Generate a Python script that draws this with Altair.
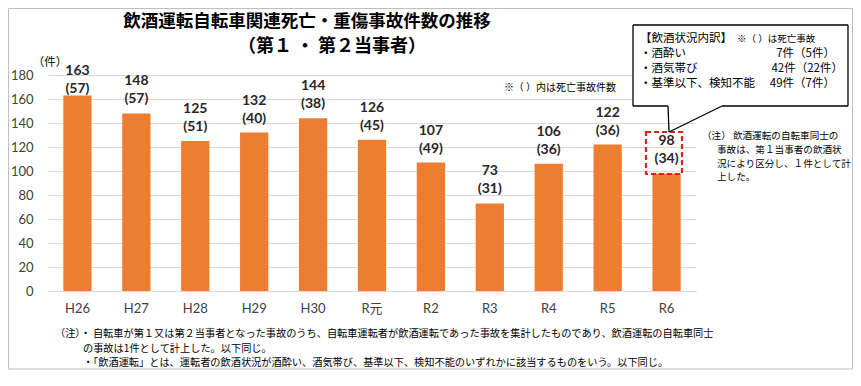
import altair as alt
import pandas as pd

years = ["H26", "H27", "H28", "H29", "H30", "R元", "R2", "R3", "R4", "R5", "R6"]
totals = [163, 148, 125, 132, 144, 126, 107, 73, 106, 122, 98]
fatal = [57, 57, 51, 40, 38, 45, 49, 31, 36, 36, 34]
y_ticks = [0, 20, 40, 60, 80, 100, 120, 140, 160, 180]

title_lines = ["飲酒運転自転車関連死亡・重傷事故件数の推移", "（第１ ・ 第２当事者）"]
unit_label = "（件）"
paren_note = "※（ ）内は死亡事故件数"
box_head = "【飲酒状況内訳】"
box_head_note = "※（ ）は死亡事故"
box_lines = ["・酒酔い", "・酒気帯び", "・基準以下、検知不能"]
box_values = ["7件（5件）", "42件（22件）", "49件（7件）"]
side_note = ["（注） 飲酒運転の自転車同士の", "事故は、第１当事者の飲酒状", "況により区分し、１件として計", "上した。"]
bottom_notes = [
    "（注）・ 自転車が第１又は第２当事者となった事故のうち、自転車運転者が飲酒運転であった事故を集計したものであり、飲酒運転の自転車同士",
    "の事故は1件として計上した。以下同じ。",
    "・「飲酒運転」とは、運転者の飲酒状況が酒酔い、酒気帯び、基準以下、検知不能のいずれかに該当するものをいう。以下同じ。",
]

df = pd.DataFrame({"year": years, "count": totals, "fatal": fatal})

JP = "Noto Sans CJK JP"
NUM = "Lato, Noto Sans CJK JP"
OX, OY = 48, 75  # plot origin in page pixels
W, H = 648, 216
ORANGE = "#ED7D31"

def one():
    return alt.Chart(pd.DataFrame({"t": [""]}))

def txt(s, x, y, size, weight="normal", align="left", color="#000000", font=JP):
    return alt.Chart(pd.DataFrame({"t": [s]})).mark_text(
        align=align, baseline="middle", fontSize=size, fontWeight=weight, font=font, color=color
    ).encode(x=alt.value(x - OX), y=alt.value(y - OY), text="t:N")

def rule(x1, y1, x2, y2, color="#000000", width=1.0, dash=None):
    kw = dict(color=color, strokeWidth=width)
    if dash:
        kw["strokeDash"] = dash
    return one().mark_rule(**kw).encode(
        x=alt.value(x1 - OX), y=alt.value(y1 - OY), x2=alt.value(x2 - OX), y2=alt.value(y2 - OY)
    )

def rect(x1, y1, x2, y2, stroke, width=1.0, dash=None, fill=None):
    kw = dict(stroke=stroke, strokeWidth=width)
    if fill:
        kw["fill"] = fill
    else:
        kw["filled"] = False
    if dash:
        kw["strokeDash"] = dash
    return one().mark_rect(**kw).encode(
        x=alt.value(x1 - OX), y=alt.value(y1 - OY), x2=alt.value(x2 - OX), y2=alt.value(y2 - OY)
    )

yscale = alt.Scale(domain=[0, 180], nice=False)
xscale = alt.Scale(paddingInner=0.52, paddingOuter=0.26)
xaxis = alt.Axis(labelAngle=0, labelFont=NUM, labelFontSize=13, labelColor="#404040",
                 labelPadding=11, ticks=False, domainColor="#D9D9D9", grid=False)
yaxis = alt.Axis(values=y_ticks, labelFont=NUM, labelFontSize=13, labelColor="#404040",
                 labelPadding=15, labelOverlap=False, ticks=False, domain=False, gridColor="#D9D9D9")

xenc = alt.X("year:N", sort=years, title=None, scale=xscale, axis=xaxis)
yenc = alt.Y("count:Q", title=None, scale=yscale, axis=yaxis)

base = alt.Chart(df)
bars = base.mark_bar(color=ORANGE).encode(x=xenc, y=yenc)

lab_base = base.transform_calculate(
    ly="min(datum.count, 157)", ptxt="'(' + datum.fatal + ')'"
)
yl = alt.Y("ly:Q", title=None, scale=yscale, axis=yaxis)
lab1 = lab_base.mark_text(fontSize=14, fontWeight="bold", font=NUM, color="#262626", dy=-32).encode(
    x=xenc, y=yl, text="count:Q",
)
lab2 = lab_base.mark_text(fontSize=14, fontWeight="bold", font=NUM, color="#262626", dy=-14).encode(
    x=xenc, y=yl, text="ptxt:N",
)

layers = [bars, lab1, lab2]

# outer border
layers.append(rect(8.5, 8.5, 852.5, 369, "#BFBFBF", 1))

# title
layers.append(txt(title_lines[0], 307, 22, 17.5, "bold", "center"))
layers.append(txt(title_lines[1], 332, 47, 18, "bold", "center"))

# unit label
layers.append(txt(unit_label, 50, 63, 11.5, align="center"))

# parenthesis note
layers.append(txt(paren_note, 560, 88, 10, align="center"))

# dashed red box around R6 label
layers.append(rect(646, 132, 682, 174, "#E02020", 2.2, dash=[5, 3]))

# callout box
BL, BR, BT, BB = 633, 848, 25, 106
PL, PR, TIPX, TIPY = 668, 722, 669, 132
layers.append(rect(BL, BT, BR, BB, "#FFFFFF", 0, fill="#FFFFFF"))
layers.append(rule(BL, BT, BR, BT, width=1.3))
layers.append(rule(BL, BT, BL, BB, width=1.3))
layers.append(rule(BR, BT, BR, BB, width=1.3))
layers.append(rule(BL, BB, PL, BB, width=1.3))
layers.append(rule(PR, BB, BR, BB, width=1.3))
layers.append(rule(PL, BB, TIPX, TIPY, width=1.3))
layers.append(rule(PR, BB, TIPX, TIPY, width=1.3))

layers.append(txt(box_head, 640, 39, 11.5))
layers.append(txt(box_head_note, 737, 39, 9.5))
for i, (a, b) in enumerate(zip(box_lines, box_values)):
    yy = 54 + 15 * i
    layers.append(txt(a, 640, yy, 11.5))
    layers.append(txt(b, 835 if i != 1 else 843, yy, 11.5, align="right"))

# side note
layers.append(txt(side_note[0], 702, 136, 9.6))
for i, s in enumerate(side_note[1:]):
    layers.append(txt(s, 717, 150 + 13.5 * i, 9.6))

# bottom notes
layers.append(txt(bottom_notes[0], 55, 334, 10.2))
layers.append(txt(bottom_notes[1], 83, 349, 10.2))
layers.append(txt(bottom_notes[2], 83, 363, 10.2))

chart = alt.layer(*layers).properties(
    width=W, height=H,
    autosize=alt.AutoSizeParams(type="none"),
    padding={"left": OX - 8, "top": OY - 8, "right": 861 - 16 - (OX - 8) - W, "bottom": 370 - (OY - 8) - H},
    background="white",
).configure_view(stroke=None)

chart.save("out.html", embed_options={"renderer": "svg", "actions": False})
